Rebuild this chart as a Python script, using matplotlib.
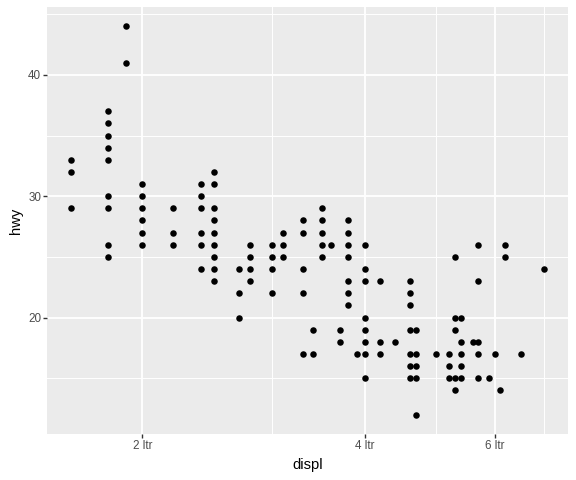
import numpy as np
import matplotlib
matplotlib.use("Agg")
import matplotlib.pyplot as plt
from matplotlib.ticker import FixedLocator, NullFormatter

# Data (unique displ/hwy points)
displ = [1.6, 1.6, 1.6,
         1.8, 1.8, 1.8, 1.8, 1.8, 1.8, 1.8, 1.8, 1.8,
         1.9, 1.9,
         2.0, 2.0, 2.0, 2.0, 2.0, 2.0,
         2.2, 2.2, 2.2,
         2.4, 2.4, 2.4, 2.4, 2.4, 2.4,
         2.5, 2.5, 2.5, 2.5, 2.5, 2.5, 2.5, 2.5, 2.5,
         2.7, 2.7, 2.7,
         2.8, 2.8, 2.8, 2.8,
         3.0, 3.0, 3.0, 3.0,
         3.1, 3.1, 3.1,
         3.3, 3.3, 3.3, 3.3, 3.3,
         3.4, 3.4,
         3.5, 3.5, 3.5, 3.5, 3.5,
         3.6,
         3.7, 3.7,
         3.8, 3.8, 3.8, 3.8, 3.8, 3.8, 3.8,
         3.9,
         4.0, 4.0, 4.0, 4.0, 4.0, 4.0, 4.0, 4.0,
         4.2, 4.2, 4.2,
         4.4,
         4.6, 4.6, 4.6, 4.6, 4.6, 4.6, 4.6,
         4.7, 4.7, 4.7, 4.7, 4.7,
         5.0,
         5.2, 5.2, 5.2,
         5.3, 5.3, 5.3, 5.3, 5.3,
         5.4, 5.4, 5.4, 5.4, 5.4,
         5.6,
         5.7, 5.7, 5.7, 5.7, 5.7,
         5.9,
         6.0,
         6.1,
         6.2, 6.2,
         6.5,
         7.0]
hwy = [33, 32, 29,
       37, 36, 35, 34, 33, 30, 29, 26, 25,
       44, 41,
       31, 30, 29, 28, 27, 26,
       29, 27, 26,
       31, 30, 29, 27, 26, 24,
       32, 31, 29, 28, 27, 26, 25, 24, 23,
       24, 22, 20,
       26, 25, 24, 23,
       26, 25, 24, 22,
       27, 26, 25,
       28, 27, 24, 22, 17,
       19, 17,
       29, 28, 27, 26, 25,
       26,
       19, 18,
       28, 27, 26, 25, 23, 22, 21,
       17,
       26, 24, 23, 20, 19, 18, 17, 15,
       23, 18, 17,
       18,
       23, 22, 21, 19, 17, 16, 15,
       19, 17, 16, 15, 12,
       17,
       17, 16, 15,
       25, 20, 19, 15, 14,
       20, 18, 17, 16, 15,
       18,
       26, 23, 18, 17, 15,
       15,
       17,
       14,
       26, 25,
       17,
       24]

x_breaks = [2, 4, 6]
x_labels = ["2 ltr", "4 ltr", "6 ltr"]
x_minor = [3, 5, 7]
y_breaks = [20, 30, 40]
y_minor = [15, 25, 35, 45]

plt.rcParams['font.family'] = ['Liberation Sans', 'DejaVu Sans']

fig = plt.figure(figsize=(5.76, 4.8), dpi=100)
ax = fig.add_axes([47/576, 46/480, (568-47)/576, (473-46)/480])
ax.set_facecolor('#EBEBEB')

ax.scatter(displ, hwy, s=22, color='black', linewidths=0, zorder=3)

ax.set_xscale('log')
lx = np.log([min(displ), max(displ)])
ex = (lx[1] - lx[0]) * 0.05
ax.set_xlim(np.exp(lx[0] - ex), np.exp(lx[1] + ex))
ry = max(hwy) - min(hwy)
ax.set_ylim(min(hwy) - 0.05 * ry, max(hwy) + 0.05 * ry)

ax.xaxis.set_major_locator(FixedLocator(x_breaks))
ax.set_xticklabels(x_labels)
ax.xaxis.set_minor_locator(FixedLocator(x_minor))
ax.xaxis.set_minor_formatter(NullFormatter())
ax.yaxis.set_major_locator(FixedLocator(y_breaks))
ax.yaxis.set_minor_locator(FixedLocator(y_minor))
ax.yaxis.set_minor_formatter(NullFormatter())

ax.grid(True, which='major', color='white', linewidth=1.35, zorder=1)
ax.grid(True, which='minor', color='white', linewidth=0.7, zorder=1)
ax.set_axisbelow(True)

for sp in ax.spines.values():
    sp.set_visible(False)

ax.tick_params(which='major', length=2.6, width=1.0, color='#333333',
               labelsize=8.4, labelcolor='#4D4D4D', pad=1.6)
ax.tick_params(which='minor', length=0)

ax.set_xlabel('displ', fontsize=10.6, color='black', labelpad=4.5)
ax.set_ylabel('hwy', fontsize=10.6, color='black', labelpad=4)

fig.savefig('out.png', dpi=100, facecolor='white')
